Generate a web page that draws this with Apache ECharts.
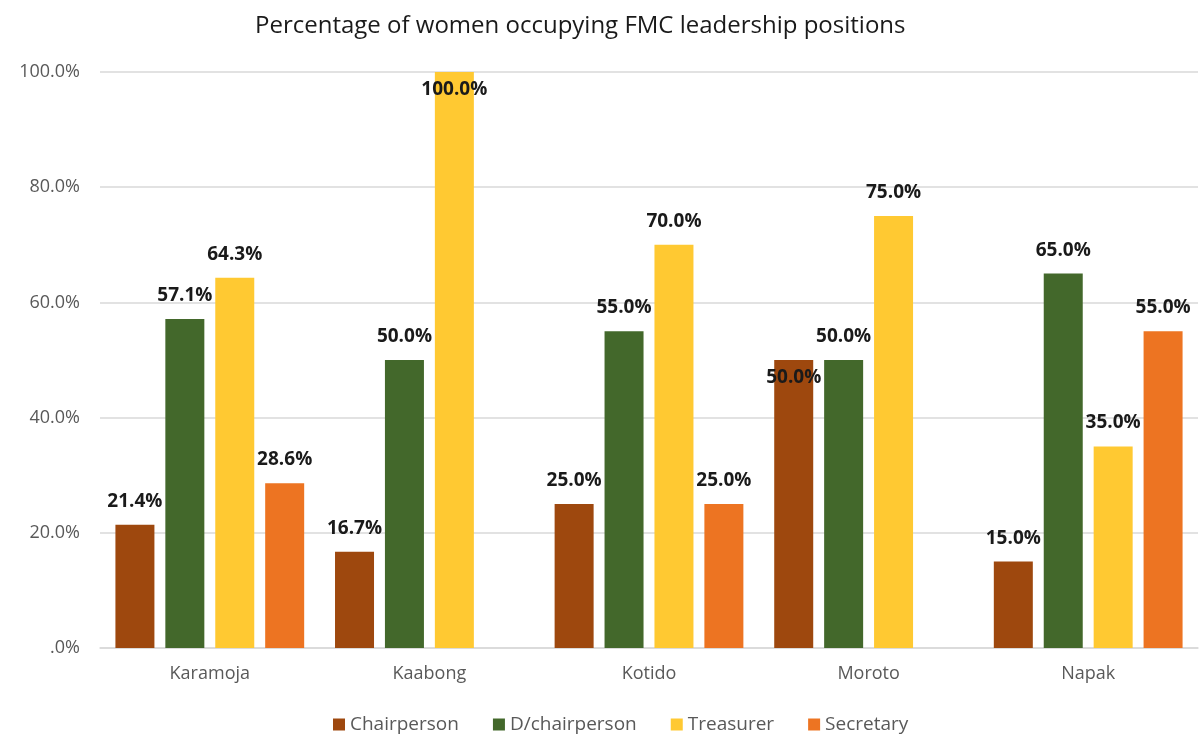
<!DOCTYPE html>
<html>
<head>
<meta charset="utf-8">
<script src="https://cdn.jsdelivr.net/npm/echarts@6/dist/echarts.min.js"></script>
<style>
  html, body { margin: 0; padding: 0; background: #fff; }
  #chart { width: 1200px; height: 740px; }
</style>
</head>
<body>
<div id="chart"></div>
<script>
// data
var districts = ["Karamoja", "Kaabong", "Kotido", "Moroto", "Napak"];
var chairperson = [21.4, 16.7, 25.0, 50.0, 15.0];
var dChairperson = [57.1, 50.0, 55.0, 50.0, 65.0];
var treasurer = [64.3, 100.0, 70.0, 75.0, 35.0];
var secretary = [28.6, null, 25.0, null, 55.0];

var font = "'Open Sans', 'Noto Sans', sans-serif";

function pct(v) {
    return (v === 0 ? ".0" : v.toFixed(1)) + "%";
}

// labels that sit inside the bar in the original
function withLabels(values, insideIdx) {
    return values.map(function (v, i) {
        if (insideIdx.indexOf(i) >= 0) {
            return { value: v, label: { position: "insideTop", distance: 8 } };
        }
        return v;
    });
}

function makeSeries(name, color, values, insideIdx) {
    return {
        name: name,
        type: "bar",
        barWidth: 39,
        barGap: "28%",
        itemStyle: { color: color },
        label: {
            show: true,
            position: "top",
            distance: 14,
            color: "#1a1a1a",
            fontWeight: "bold",
            fontSize: 19,
            fontFamily: font,
            formatter: function (p) { return pct(p.value); }
        },
        data: withLabels(values, insideIdx || [])
    };
}

var myChart = echarts.init(document.getElementById("chart"));
var option = {
    animation: false,
    title: {
        text: "Percentage of women occupying FMC leadership positions",
        left: 250,
        top: 9,
        textStyle: { fontFamily: font, fontWeight: "normal", fontSize: 24, color: "#1a1a1a" }
    },
    legend: {
        bottom: 1,
        left: 328,
        itemWidth: 12,
        itemHeight: 12,
        itemGap: 34,
        icon: "rect",
        textStyle: { fontFamily: font, fontSize: 19, color: "#595959" },
        data: ["Chairperson", "D/chairperson", "Treasurer", "Secretary"]
    },
    grid: { left: 100, right: 2, top: 72, bottom: 92 },
    xAxis: {
        type: "category",
        data: districts,
        axisTick: { show: false },
        axisLine: { lineStyle: { color: "#d9d9d9", width: 1.5 } },
        axisLabel: { fontFamily: font, fontSize: 18, color: "#595959", margin: 17 }
    },
    yAxis: {
        type: "value",
        min: 0,
        max: 100,
        interval: 20,
        axisLabel: {
            fontFamily: font, fontSize: 18, color: "#595959", margin: 20,
            formatter: function (v) { return pct(v); }
        },
        splitLine: { lineStyle: { color: "#d9d9d9", width: 1.5 } }
    },
    series: [
        makeSeries("Chairperson", "#9e480e", chairperson, [3]),
        makeSeries("D/chairperson", "#43682b", dChairperson),
        makeSeries("Treasurer", "#ffc932", treasurer, [1]),
        makeSeries("Secretary", "#ed7422", secretary)
    ]
};
myChart.setOption(option);
</script>
</body>
</html>
